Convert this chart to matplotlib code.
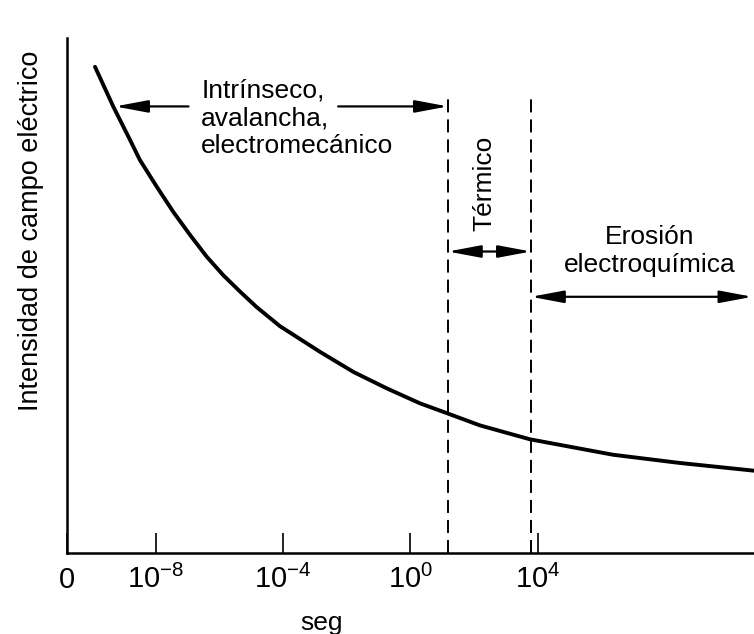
import matplotlib
matplotlib.use('Agg')
import matplotlib.pyplot as plt

plt.rcParams['font.family'] = ['Liberation Sans', 'DejaVu Sans']
plt.rcParams['mathtext.fontset'] = 'custom'
plt.rcParams['mathtext.rm'] = 'Liberation Sans'
plt.rcParams['mathtext.it'] = 'Liberation Sans:italic'
plt.rcParams['mathtext.bf'] = 'Liberation Sans:bold'

# breakdown field strength vs. time to failure (x in log10 seconds, y arbitrary units)
log_t = [-9.91, -9.33, -8.81, -8.50, -7.97, -7.45, -6.92, -6.40, -5.88, -5.35,
         -4.83, -4.10, -2.84, -1.79, -0.74, 0.30, 1.14, 2.19, 3.76, 6.37,
         8.47, 10.80]
field = [94.4, 86.6, 80.2, 76.3, 71.1, 66.2, 61.7, 57.5, 53.9, 50.7,
         47.7, 44.0, 39.0, 35.1, 31.9, 29.0, 27.1, 24.7, 22.0, 19.0,
         17.4, 15.9]

# boundaries between breakdown regimes (log10 s)
limits = [1.18, 3.79]
limit_top = 89

x_min, x_max = -10.79, 10.80
tick_exp = [x_min, -8, -4, 0, 4]
tick_labels = ['0', '$10^{-8}$', '$10^{-4}$', '$10^{0}$', '$10^{4}$']

fig = plt.figure(figsize=(7.54, 6.34), dpi=100)
ax = fig.add_axes([67 / 754, 81.5 / 634, 687 / 754, 514.5 / 634])

ax.plot(log_t, field, color='black', lw=2.8, solid_capstyle='round',
        solid_joinstyle='round', clip_on=False)
for lim in limits:
    ax.plot([lim, lim], [0, limit_top], color='black', lw=1.4,
            linestyle=(0, (6.7, 3.6)))

ax.set_xlim(x_min, x_max)
ax.set_ylim(0, 100)
ax.spines['top'].set_visible(False)
ax.spines['right'].set_visible(False)
ax.spines['left'].set_linewidth(1.8)
ax.spines['bottom'].set_linewidth(1.8)
ax.set_yticks([])
ax.set_xticks(tick_exp)
ax.set_xticklabels(tick_labels)
ax.tick_params(axis='x', direction='in', length=14.4, width=1.2,
               pad=25.5, labelsize=21)
for lab in ax.get_xticklabels():
    lab.set_va('baseline')

ax.set_xlabel('seg', fontsize=19)
ax.xaxis.label.set_va('baseline')
ax.xaxis.set_label_coords((322 - 67) / 687, -0.151)
ax.set_ylabel('Intensidad de campo eléctrico', fontsize=19.5)
ax.yaxis.set_label_coords(-0.033, 0.625)

one_way = dict(arrowstyle='-|>,head_length=0.8,head_width=0.15', color='black',
               lw=1.6, mutation_scale=25, shrinkA=0, shrinkB=0)
two_way = dict(one_way, arrowstyle='<|-|>,head_length=0.8,head_width=0.15')

# intrinsic / avalanche / electromechanical range
ax.text(-6.57, 77.6, 'Intrínseco,\navalancha,\nelectromecánico',
        fontsize=19, ha='left', va='baseline')
ax.annotate('', xy=(-9.28, 86.7), xytext=(-6.97, 86.7), arrowprops=one_way)
ax.annotate('', xy=(limits[0], 86.7), xytext=(-2.27, 86.7), arrowprops=one_way)

# thermal range
ax.text(2.34, 71.8, 'Térmico', fontsize=19, rotation=90, ha='center', va='center')
ax.annotate('', xy=(limits[0], 58.5), xytext=(limits[1], 58.5), arrowprops=two_way)

# electrochemical erosion range
ax.text(7.53, 54.6, 'Erosión\nelectroquímica', fontsize=19, ha='center',
        va='baseline', multialignment='center')
ax.annotate('', xy=(limits[1], 49.7), xytext=(x_max - 0.05, 49.7),
            arrowprops=two_way, annotation_clip=False)

fig.savefig('out.png', dpi=100)
